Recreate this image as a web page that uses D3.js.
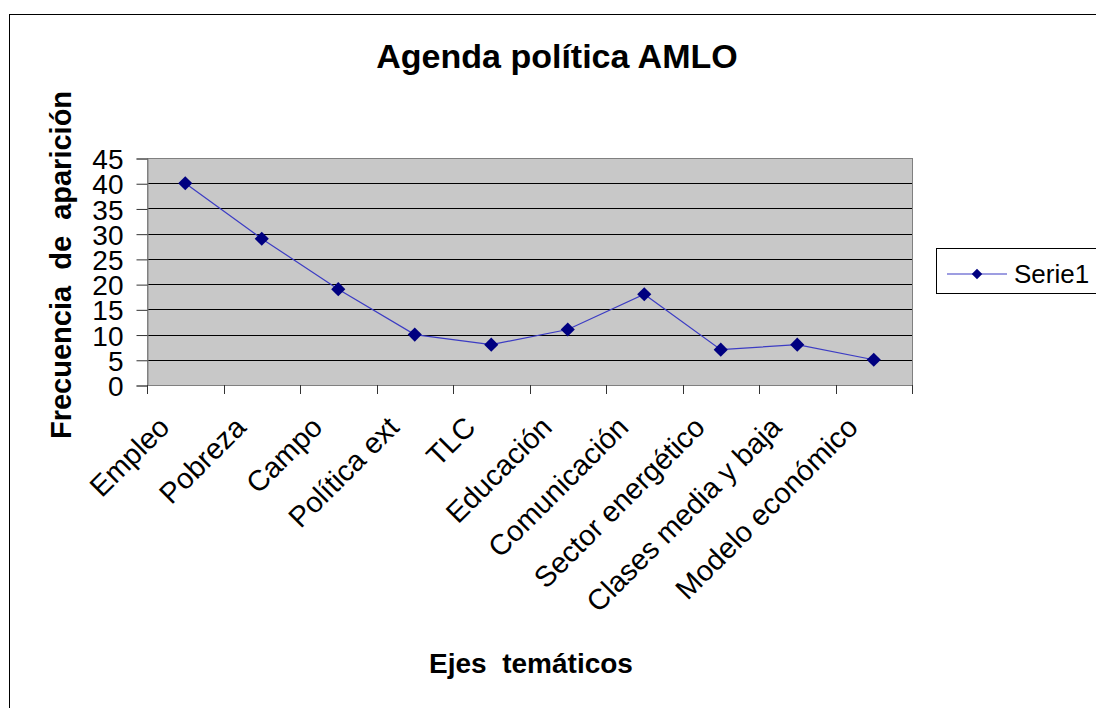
<!DOCTYPE html>
<html><head><meta charset="utf-8">
<script src="https://cdn.jsdelivr.net/npm/d3@7"></script>
<style>
html,body{margin:0;padding:0;background:#fff;overflow:hidden}
text{font-family:"Liberation Sans",Arial,sans-serif}
</style></head>
<body>
<svg id="chart" width="1096" height="708"></svg>
<script>
const categories = ["Empleo","Pobreza","Campo","Política ext","TLC","Educación","Comunicación","Sector energético","Clases media y baja","Modelo económico"];
const values = [40,29,19,10,8,11,18,7,8,5];
const yTicks = [0,5,10,15,20,25,30,35,40,45];
const seriesName = "Serie1";
const titleText = "Agenda política AMLO";
const xTitle = "Ejes  temáticos";
const yTitle = "Frecuencia  de  aparición";

(function(){
const svg = d3.select("#chart");
const pL = 147, pR = 912, pT = 158, pB = 385;

// outer border
svg.append("rect").attr("x",9.5).attr("y",14.5).attr("width",1200).attr("height",800)
  .attr("fill","none").attr("stroke","#000").attr("stroke-width",1);

const x = d3.scaleBand().domain(categories).range([pL,pR]).padding(0);
const y = d3.scaleLinear().domain([0,45]).range([pB,pT]);

// plot background
svg.append("rect").attr("x",pL).attr("y",pT).attr("width",pR-pL).attr("height",pB-pT)
  .attr("fill","#c8c8c8");

// gridlines
svg.append("g").selectAll("line").data(yTicks.filter(d=>d>0)).join("line")
  .attr("x1",pL).attr("x2",pR)
  .attr("y1",d=>Math.round(y(d))+0.5).attr("y2",d=>Math.round(y(d))+0.5)
  .attr("stroke","#000").attr("stroke-width",1);

// plot border
svg.append("rect").attr("x",pL+0.5).attr("y",pT+0.5).attr("width",pR-pL).attr("height",pB-pT)
  .attr("fill","none").attr("stroke","#808080").attr("stroke-width",1);

// y axis
const yAxis = d3.axisLeft(y).tickValues(yTicks).tickSize(11).tickPadding(13);
const gy = svg.append("g").attr("transform",`translate(${pL+0.5},0.5)`).call(yAxis);
gy.select(".domain").attr("stroke","#808080");
gy.selectAll(".tick line").attr("stroke","#333");
gy.selectAll(".tick text").attr("font-size",28).attr("fill","#000")
  .attr("font-family","Liberation Sans, Arial, sans-serif").attr("dy","0.36em");

// x axis ticks at category boundaries
const bounds = categories.map(c=>x(c)).concat([pR]);
svg.append("line").attr("x1",pL).attr("x2",pR).attr("y1",pB+0.5).attr("y2",pB+0.5)
  .attr("stroke","#808080");
svg.append("g").selectAll("line").data(bounds).join("line")
  .attr("x1",d=>Math.round(d)+0.5).attr("x2",d=>Math.round(d)+0.5)
  .attr("y1",pB).attr("y2",pB+9).attr("stroke","#333");

// x labels
svg.append("g").selectAll("text").data(categories).join("text")
  .attr("transform",d=>`translate(${x(d)+x.bandwidth()/2-14},${pB+44}) rotate(-45)`)
  .attr("text-anchor","end").attr("font-size",29).attr("fill","#000").text(d=>d);

// line
const cx = (d,i)=>x(categories[i])+x.bandwidth()/2;
const line = d3.line().x((d,i)=>cx(d,i)).y(d=>y(d));
svg.append("path").datum(values).attr("d",line).attr("fill","none")
  .attr("stroke","#3c3cc4").attr("stroke-width",1.2);

// markers
const diamond = d3.symbol().type(d3.symbolSquare).size(100);
svg.append("g").selectAll("path").data(values).join("path")
  .attr("d",diamond)
  .attr("transform",(d,i)=>`translate(${cx(d,i)},${y(d)}) rotate(45)`)
  .attr("fill","#000080");

// title
svg.append("text").attr("x",557).attr("y",68).attr("text-anchor","middle")
  .attr("font-size",34).attr("font-weight","bold").text(titleText);

// axis titles
svg.append("text").attr("x",531).attr("y",673).attr("text-anchor","middle")
  .attr("font-size",28).attr("font-weight","bold").style("white-space","pre").text(xTitle);
svg.append("text").attr("transform","translate(71,265) rotate(-90)").attr("text-anchor","middle")
  .attr("font-size",29).attr("font-weight","bold").style("white-space","pre").text(yTitle);

// legend
const lg = svg.append("g");
lg.append("rect").attr("x",936.5).attr("y",248.5).attr("width",200).attr("height",45)
  .attr("fill","#fff").attr("stroke","#000");
lg.append("line").attr("x1",947).attr("x2",1007).attr("y1",274).attr("y2",274)
  .attr("stroke","#3c3cc4").attr("stroke-width",1.2);
lg.append("path").attr("d",d3.symbol().type(d3.symbolSquare).size(55)())
  .attr("transform","translate(977,274) rotate(45)").attr("fill","#000080");
lg.append("text").attr("x",1014).attr("y",283).attr("font-size",26).text(seriesName);
})();
</script>
</body></html>
